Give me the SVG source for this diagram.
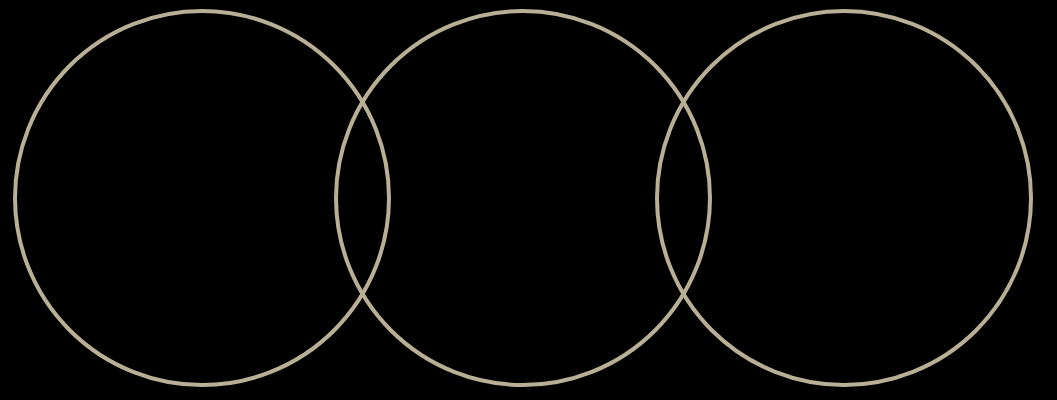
<svg xmlns="http://www.w3.org/2000/svg" width="1057" height="400" viewBox="0 0 1057 400">
<style>.ring{fill:none;stroke:#b8af95;stroke-width:4}</style>
<rect width="1057" height="400" fill="#000"/>
<g id="circle1"><circle class="ring" cx="202" cy="198" r="187"/></g>
<g id="circle2"><circle class="ring" cx="523" cy="198" r="187"/></g>
<g id="circle3"><circle class="ring" cx="844" cy="198" r="187"/></g>
<g id="connectors"></g>
</svg>
